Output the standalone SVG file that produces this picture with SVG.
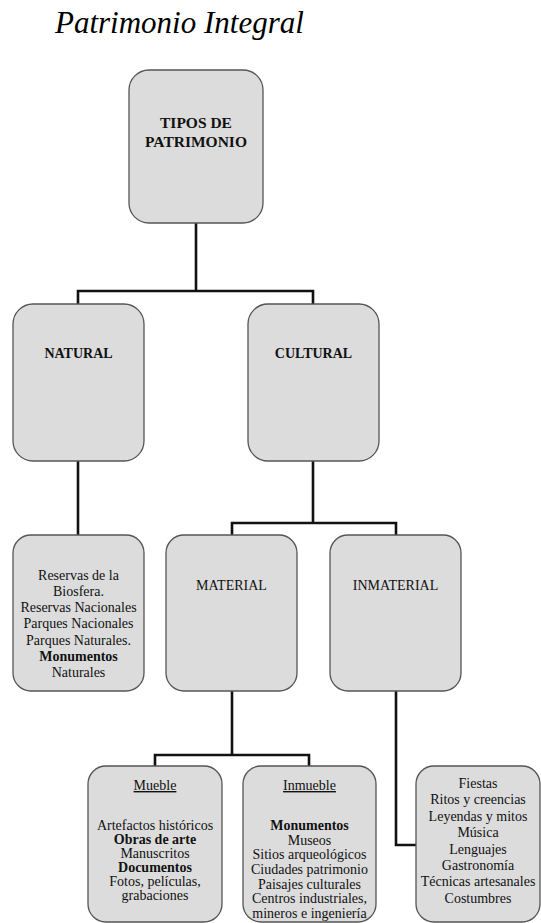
<svg xmlns="http://www.w3.org/2000/svg" width="541" height="923" viewBox="0 0 541 923">
<style>
.box{fill:#dcdcdc;stroke:#555;stroke-width:1.3}
.t{font-family:"Liberation Serif","Times New Roman",serif;font-size:14px;fill:#111;text-anchor:middle}
.title{font-family:"Liberation Serif","Times New Roman",serif;font-style:italic;font-size:31px;fill:#000}
.b{font-weight:bold}
.h{font-size:15.5px;font-weight:bold}
.c{fill:none;stroke:#111;stroke-width:2.6}
</style>
<rect width="541" height="923" fill="#fff"/>
<text class="title" x="55" y="33">Patrimonio Integral</text>
<g id="connectors">
<path class="c" d="M196 223V291M78 304V291H313V304"/>
<path class="c" d="M78 461V535"/>
<path class="c" d="M313 461V523M232 535V523H396V535"/>
<path class="c" d="M232 691V755M155 766V755H309V766"/>
<path class="c" d="M396 691V845H416"/>
</g>
<g id="tipos">
<rect class="box" x="129" y="70" width="134" height="153" rx="20"/>
<text class="t h" x="196" y="128">TIPOS DE</text>
<text class="t h" x="196" y="147">PATRIMONIO</text>
</g>
<g id="natural">
<rect class="box" x="13" y="304" width="131" height="157" rx="20"/>
<text class="t b" x="78.5" y="358">NATURAL</text>
</g>
<g id="cultural">
<rect class="box" x="248" y="304" width="131" height="157" rx="20"/>
<text class="t b" x="313.5" y="358">CULTURAL</text>
</g>
<g id="reservas">
<rect class="box" x="13" y="535" width="131" height="156" rx="18"/>
<text class="t" x="78.5" y="580">Reservas de la</text>
<text class="t" x="78.5" y="596">Biosfera.</text>
<text class="t" x="78.5" y="612">Reservas Nacionales</text>
<text class="t" x="78.5" y="628">Parques Nacionales</text>
<text class="t" x="78.5" y="645">Parques Naturales.</text>
<text class="t b" x="78.5" y="661">Monumentos</text>
<text class="t" x="78.5" y="677">Naturales</text>
</g>
<g id="material">
<rect class="box" x="166" y="535" width="131" height="156" rx="18"/>
<text class="t" x="231.5" y="590">MATERIAL</text>
</g>
<g id="inmaterial">
<rect class="box" x="330" y="535" width="131" height="156" rx="18"/>
<text class="t" x="395.5" y="590">INMATERIAL</text>
</g>
<g id="mueble">
<rect class="box" x="88" y="766" width="134" height="156" rx="18"/>
<text class="t" x="155" y="790" text-decoration="underline">Mueble</text>
<text class="t" x="155" y="830">Artefactos históricos</text>
<text class="t b" x="155" y="844">Obras de arte</text>
<text class="t" x="155" y="858">Manuscritos</text>
<text class="t b" x="155" y="872">Documentos</text>
<text class="t" x="155" y="886">Fotos, películas,</text>
<text class="t" x="155" y="900">grabaciones</text>
</g>
<g id="inmueble">
<rect class="box" x="243" y="766" width="133" height="156" rx="18"/>
<text class="t" x="309.5" y="790" text-decoration="underline">Inmueble</text>
<text class="t b" x="309.5" y="830">Monumentos</text>
<text class="t" x="309.5" y="845">Museos</text>
<text class="t" x="309.5" y="859">Sitios arqueológicos</text>
<text class="t" x="309.5" y="874">Ciudades patrimonio</text>
<text class="t" x="309.5" y="889">Paisajes culturales</text>
<text class="t" x="309.5" y="903">Centros industriales,</text>
<text class="t" x="309.5" y="918">mineros e ingeniería</text>
</g>
<g id="inmaterial-lista">
<rect class="box" x="416" y="766" width="124" height="156" rx="18"/>
<text class="t" x="478" y="788">Fiestas</text>
<text class="t" x="478" y="804">Ritos y creencias</text>
<text class="t" x="478" y="821">Leyendas y mitos</text>
<text class="t" x="478" y="837">Música</text>
<text class="t" x="478" y="854">Lenguajes</text>
<text class="t" x="478" y="870">Gastronomía</text>
<text class="t" x="478" y="886">Técnicas artesanales</text>
<text class="t" x="478" y="903">Costumbres</text>
</g>
</svg>
